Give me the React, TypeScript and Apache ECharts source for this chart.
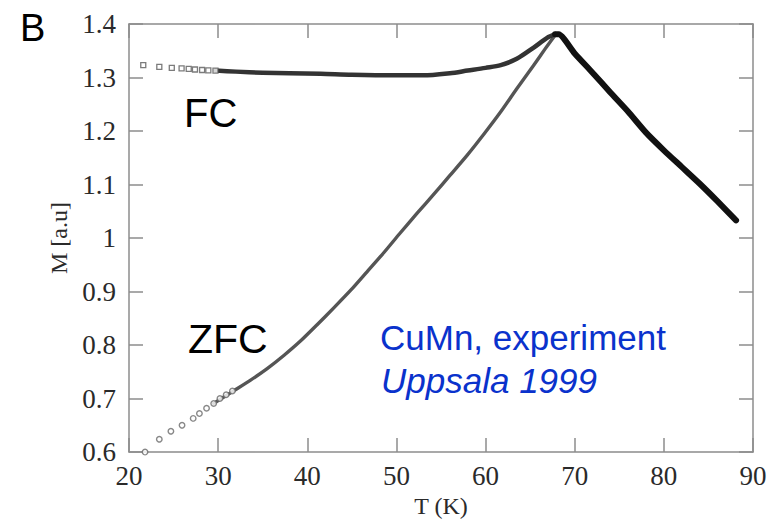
import React, { useEffect, useRef } from "react";
import * as echarts from "echarts";

// ---- Data ----
// FC (field-cooled) branch: sparse square markers at low T
const fcMarkerT = [21.6, 23.4, 24.8, 25.9, 26.7, 27.4, 28.2, 28.9, 29.7];
const fcMarkerM = [1.323, 1.320, 1.318, 1.317, 1.316, 1.315, 1.314, 1.3135, 1.313];
// FC dense part (markers merge into a strip)
const fcLineT = [29.7, 32, 35, 38, 41.5, 45, 50, 53, 56, 58, 60, 61.7, 63.5, 65.4, 66.9, 67.8];
const fcLineM = [1.313, 1.311, 1.309, 1.308, 1.307, 1.305, 1.304, 1.304, 1.308, 1.313, 1.318, 1.323, 1.335, 1.356, 1.374, 1.381];

// ZFC (zero-field-cooled) branch: sparse circle markers at low T
const zfcMarkerT = [21.8, 23.4, 24.7, 25.95, 27.2, 27.9, 28.7, 29.5, 30.2, 30.9, 31.6];
const zfcMarkerM = [0.600, 0.624, 0.639, 0.650, 0.663, 0.672, 0.682, 0.691, 0.700, 0.707, 0.714];
// ZFC dense part
const zfcLineT = [29.5, 31.7, 33.6, 35.5, 37.4, 39.2, 41.1, 43.0, 44.9, 46.7, 48.6, 50.4, 52.3, 54.2, 56.0, 57.9, 59.8, 61.7, 63.5, 65.4, 66.7, 67.8];
const zfcLineM = [0.691, 0.714, 0.734, 0.756, 0.781, 0.807, 0.838, 0.870, 0.903, 0.937, 0.973, 1.009, 1.046, 1.082, 1.117, 1.154, 1.194, 1.236, 1.279, 1.323, 1.354, 1.379];

// Above the freezing temperature both branches coincide
const paraT = [67.8, 68.2, 70, 72, 74, 76, 78, 80, 82, 84, 86, 88.1];
const paraM = [1.381, 1.381, 1.345, 1.309, 1.272, 1.236, 1.197, 1.164, 1.133, 1.102, 1.069, 1.033];

const xTicks = { min: 20, max: 90, step: 10 };
const yTicks = { min: 0.6, max: 1.4, step: 0.1 };

const pairs = (xs: number[], ys: number[]) => xs.map((x, i) => [x, ys[i]]);

export default function App() {
  const ref = useRef<HTMLDivElement>(null);
  useEffect(() => {
    if (!ref.current) return;
    const chart = echarts.init(ref.current, undefined, { renderer: "svg" });
    const axisColor = "#8c8c8c";
    const serif = "Liberation Serif";
    const sans = "Liberation Sans";
    const baseX = {
      type: "value" as const,
      min: xTicks.min,
      max: xTicks.max,
      interval: xTicks.step,
      splitLine: { show: false },
      axisLine: { show: true, onZero: false, lineStyle: { color: axisColor, width: 1.5 } },
      axisTick: { show: true, inside: true, length: 14, lineStyle: { color: axisColor, width: 1.5 } },
    };
    const baseY = {
      type: "value" as const,
      min: yTicks.min,
      max: yTicks.max,
      interval: yTicks.step,
      splitLine: { show: false },
      axisLine: { show: true, onZero: false, lineStyle: { color: axisColor, width: 1.5 } },
      axisTick: { show: true, inside: true, length: 14, lineStyle: { color: axisColor, width: 1.5 } },
    };
    chart.setOption({
      animation: false,
      backgroundColor: "#ffffff",
      grid: { left: 129, right: 23, top: 24, bottom: 59, containLabel: false },
      xAxis: [
        {
          ...baseX,
          position: "bottom",
          name: "T (K)",
          nameLocation: "middle",
          nameGap: 30,
          nameTextStyle: { fontFamily: serif, fontSize: 24, color: "#2a2a2a" },
          axisLabel: { color: "#2a2a2a", fontFamily: serif, fontSize: 27, margin: 10 },
        },
        { ...baseX, position: "top", axisLabel: { show: false } },
      ],
      yAxis: [
        {
          ...baseY,
          position: "left",
          name: "M [a.u]",
          nameLocation: "middle",
          nameGap: 56,
          nameRotate: 90,
          nameTextStyle: { fontFamily: serif, fontSize: 24, color: "#2a2a2a" },
          axisLabel: {
            color: "#2a2a2a",
            fontFamily: serif,
            fontSize: 27,
            margin: 13,
            formatter: (v: number) => String(Math.round(v * 10) / 10),
          },
        },
        { ...baseY, position: "right", axisLabel: { show: false } },
      ],
      series: [
        {
          type: "line",
          data: pairs(zfcLineT, zfcLineM),
          showSymbol: false,
          symbol: "none",
          smooth: 0.25,
          lineStyle: { color: "#555555", width: 3.4, cap: "round", join: "round" },
          z: 2,
        },
        {
          type: "scatter",
          data: pairs(zfcMarkerT, zfcMarkerM),
          symbol: "circle",
          symbolSize: 5.5,
          itemStyle: { color: "#ffffff", borderColor: "#6a6a6a", borderWidth: 1.4 },
          z: 3,
        },
        {
          type: "line",
          data: pairs(fcLineT, fcLineM),
          showSymbol: false,
          symbol: "none",
          smooth: 0.3,
          lineStyle: { color: "#333333", width: 4.5, cap: "round", join: "round" },
          z: 4,
        },
        {
          type: "scatter",
          data: pairs(fcMarkerT, fcMarkerM),
          symbol: "rect",
          symbolSize: 5,
          itemStyle: { color: "#ffffff", borderColor: "#5a5a5a", borderWidth: 1.3 },
          z: 5,
        },
        {
          type: "line",
          data: pairs(paraT, paraM),
          showSymbol: false,
          symbol: "none",
          smooth: 0.2,
          lineStyle: { color: "#111111", width: 6, cap: "round", join: "round" },
          z: 6,
        },
      ],
      graphic: [
        {
          type: "text",
          x: 20,
          y: 28,
          style: { text: "B", fontFamily: sans, fontSize: 38, fill: "#000", verticalAlign: "middle", align: "left" },
        },
        {
          type: "text",
          x: 184,
          y: 113,
          style: { text: "FC", fontFamily: sans, fontSize: 40, fill: "#000", verticalAlign: "middle", align: "left" },
        },
        {
          type: "text",
          x: 188,
          y: 339,
          style: { text: "ZFC", fontFamily: sans, fontSize: 41, fill: "#000", verticalAlign: "middle", align: "left" },
        },
        {
          type: "text",
          x: 380,
          y: 337,
          style: { text: "CuMn, experiment", fontFamily: sans, fontSize: 35, fill: "#0a32cc", verticalAlign: "middle", align: "left" },
        },
        {
          type: "text",
          x: 381,
          y: 380,
          style: { text: "Uppsala 1999", fontFamily: sans, fontStyle: "italic", fontSize: 35, fill: "#0a32cc", verticalAlign: "middle", align: "left" },
        },
      ],
    });
    return () => chart.dispose();
  }, []);
  return (
    <div
      ref={ref}
      style={{ position: "fixed", left: 0, top: 0, width: 776, height: 523, background: "#fff" }}
    />
  );
}
